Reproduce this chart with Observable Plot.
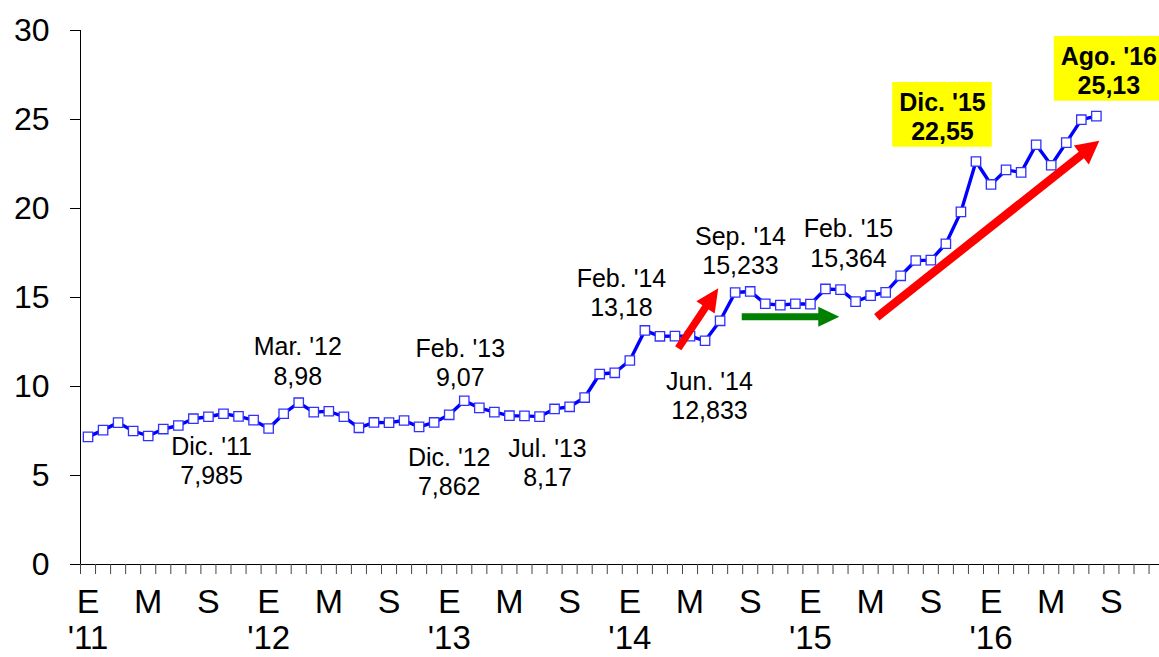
<!DOCTYPE html>
<html><head><meta charset="utf-8">
<script src="https://cdn.jsdelivr.net/npm/d3@7"></script>
<script src="https://cdn.jsdelivr.net/npm/@observablehq/plot@0.6"></script>
<style>
html,body{margin:0;padding:0;background:#fff;overflow:hidden;}
#chart svg{overflow:hidden;}
</style></head><body><div id="chart"></div>
<script>
// ---- data ----
const startYear = 2011;
const rate = [
  7.17, 7.55, 7.97, 7.50, 7.22, 7.61, 7.81, 8.19, 8.30, 8.47, 8.32, 8.11,
  7.64, 8.47, 9.09, 8.56, 8.61, 8.30, 7.68, 7.98, 7.97, 8.09, 7.73, 7.98,
  8.41, 9.20, 8.80, 8.56, 8.36, 8.35, 8.31, 8.74, 8.86, 9.38, 10.70, 10.77,
  11.46, 13.15, 12.82, 12.83, 12.83, 12.57, 13.69, 15.28, 15.34, 14.65, 14.57, 14.65,
  14.63, 15.48, 15.44, 14.77, 15.10, 15.29, 16.22, 17.08, 17.10, 18.02, 19.81, 22.64,
  21.35, 22.17, 22.03, 23.58, 22.43, 23.70, 24.99, 25.19
];
const monthLetters = ["E","","","","M","","","","S","","",""];
const yearLabels = ["'11","'12","'13","'14","'15","'16"];
const axisMonths = 72;
const yTicks = [0, 5, 10, 15, 20, 25, 30];

const annMonth = [11, 14, 23, 25, 30, 37, 41, 44, 49, 59, 67];
const annName  = ["Dic. '11","Mar. '12","Dic. '12","Feb. '13","Jul. '13","Feb. '14","Jun. '14","Sep. '14","Feb. '15","Dic. '15","Ago. '16"];
const annValue = ["7,985","8,98","7,862","9,07","8,17","13,18","12,833","15,233","15,364","22,55","25,13"];
const annHighlight = [false,false,false,false,false,false,false,false,false,true,true];

// arrows in data units (month index, value)
const arrowX1 = [39.75, 43.97, 52.94];
const arrowY1 = [12.12, 13.89, 13.86];
const arrowX2 = [42.41, 50.45, 67.73];
const arrowY2 = [15.49, 13.89, 23.78];
const arrowColor = ["#ff0000", "#008000", "#ff0000"];

// ---- layout / style ----
const annOffset = [[-42,40],[-1,-42],[15,48.6],[-4,-38.6],[8,45.5],[-23.4,-38.3],[4.4,54.6],[-9.7,-41],[23,-46.3],[-33.5,-45.1],[12.5,-45.7]];
const arrowStyle = [{t:7.5,hl:23,hw:22},{t:7,hl:21,hw:20},{t:8.5,hl:23,hw:24}];
const font = '"Liberation Sans", Arial, sans-serif';
const annFont = 25;

const data = rate.map((v, i) => ({i, v}));
const anns = annMonth.map((m, k) => ({i: m, v: rate[m], name: annName[k], value: annValue[k], hl: annHighlight[k], dx: annOffset[k][0], dy: annOffset[k][1]}));

const measure = document.createElement("canvas").getContext("2d");

function boxesMark(index, scales) {
  const g = d3.create("svg:g");
  for (const a of anns.filter(a => a.hl)) {
    measure.font = `bold ${annFont}px ${font}`;
    const w = Math.max(measure.measureText(a.name).width, measure.measureText(a.value).width);
    const cx = scales.x(a.i + 0.5) + a.dx, Y = scales.y(a.v) + a.dy;
    g.append("rect").attr("x", cx - w/2 - 6.5).attr("y", Y - 33.9)
      .attr("width", w + 13).attr("height", 64.7).attr("fill", "#ffff00");
  }
  return g.node();
}

function arrowsMark(index, scales) {
  const g = d3.create("svg:g");
  arrowX1.forEach((_, k) => {
    const x1 = scales.x(arrowX1[k]), y1 = scales.y(arrowY1[k]);
    const x2 = scales.x(arrowX2[k]), y2 = scales.y(arrowY2[k]);
    const {t, hl, hw} = arrowStyle[k];
    const len = Math.hypot(x2 - x1, y2 - y1), ux = (x2 - x1)/len, uy = (y2 - y1)/len;
    const px = -uy, py = ux;
    const bx = x2 - ux*hl, by = y2 - uy*hl;
    const pts = [
      [x1 + px*t/2, y1 + py*t/2], [bx + px*t/2, by + py*t/2], [bx + px*hw/2, by + py*hw/2],
      [x2, y2], [bx - px*hw/2, by - py*hw/2], [bx - px*t/2, by - py*t/2], [x1 - px*t/2, y1 - py*t/2]
    ];
    g.append("polygon").attr("points", pts.map(p => p.join(",")).join(" ")).attr("fill", arrowColor[k]);
  });
  return g.node();
}

const letterTicks = d3.range(axisMonths).filter(i => monthLetters[i % 12] !== "").map(i => i + 0.5);
const yearTicks = d3.range(axisMonths).filter(i => i % 12 === 0).map(i => i + 0.5);

const chart = Plot.plot({
  width: 1159, height: 657,
  marginLeft: 80, marginRight: 0, marginTop: 30, marginBottom: 93,
  x: {type: "linear", domain: [0, axisMonths], range: [80, 80 + axisMonths * 15.05]},
  y: {domain: [0, 30]},
  style: {fontFamily: font, background: "white", color: "black", overflow: "hidden"},
  marks: [
    Plot.ruleX([0], {stroke: "black", strokeWidth: 1}),
    Plot.ruleY([0], {stroke: "black", strokeWidth: 1}),
    Plot.axisY({ticks: yTicks, tickSize: 10, tickPadding: 21, fontSize: 32, label: null, tickFormat: d => String(d)}),
    Plot.axisX({ticks: d3.range(axisMonths + 1), tickSize: 10, tickFormat: () => "", label: null, stroke: "#444"}),
    Plot.axisX({ticks: letterTicks, tickSize: 0, tickPadding: 24, fontSize: 34, label: null,
      tickFormat: d => monthLetters[Math.floor(d) % 12]}),
    Plot.axisX({ticks: yearTicks, tickSize: 0, tickPadding: 61, fontSize: 33, label: null,
      tickFormat: d => yearLabels[Math.floor(Math.floor(d) / 12)]}),
    Plot.line(data, {x: d => d.i + 0.5, y: "v", stroke: "#0000ff", strokeWidth: 3.4}),
    Plot.dot(data, {x: d => d.i + 0.5, y: "v", symbol: "square", r: 5.3, fill: "white", stroke: "#3030ff", strokeWidth: 1.3}),
    arrowsMark,
    boxesMark,
    ...anns.map(a => Plot.text([a], {
      x: d => d.i + 0.5, y: "v", text: d => d.name + "\n" + d.value,
      dx: a.dx, dy: a.dy, fontSize: annFont, lineHeight: 1.17,
      fontWeight: a.hl ? "bold" : "normal", fill: "black", textAnchor: "middle"
    }))
  ]
});
document.getElementById("chart").appendChild(chart);
</script></body></html>
